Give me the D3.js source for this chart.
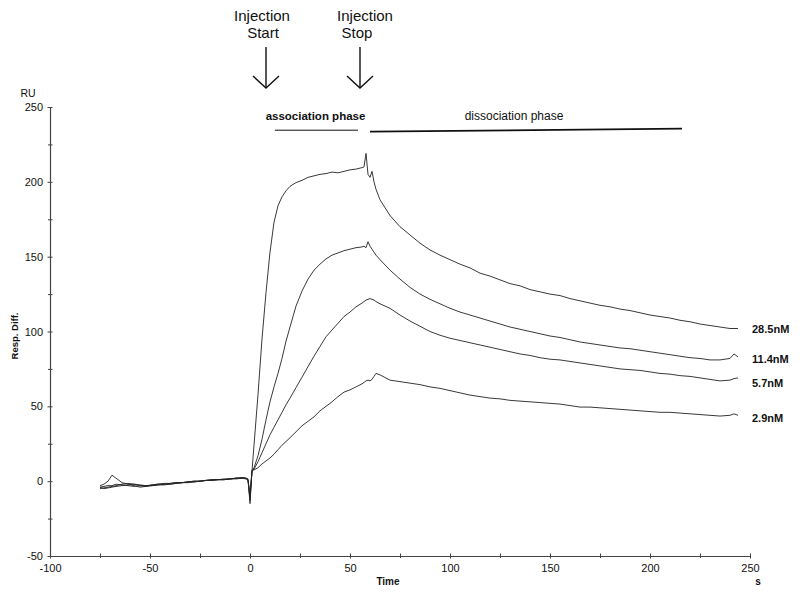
<!DOCTYPE html>
<html>
<head>
<meta charset="utf-8">
<script src="https://cdn.jsdelivr.net/npm/d3@7"></script>
<style>
  html, body { margin: 0; padding: 0; background: #fff; }
  svg { display: block; font-family: "Liberation Sans", Arial, Helvetica, sans-serif; }
</style>
</head>
<body>
<svg id="chart" width="800" height="596"></svg>
<script>
// ---------------- data ----------------
const time = [
  -75,-73,-71,-69,-67,-64,-61,-58,-55,-52,-49,-46,-43,-40,-37,-34,-31,-28,-25,-22,-19,-16,-13,-10,-7,-4,-2,-1,0,
  1,2,4,6,8,10,12,14,16,18,20,23,26,29,32,35,38,41,44,47,50,53,56,
  57,58,59,60,61,62,63,
  65,70,75,80,85,90,95,100,105,110,115,120,125,130,135,140,145,150,155,160,165,170,175,180,185,190,195,200,205,210,215,220,225,230,235,240,242,244
];

const resp285 = [
  -3,-2,0,4,2,-1,-2,-3,-4,-3.5,-3,-2.5,-2.5,-2,-1.5,-1,-1,-0.5,0,0.5,0.5,1,1,1.5,1.5,2,2,1.5,-15,
  7,24,58,95,126,153,173,184,190,194,197,199.5,201,203,204,205,205.5,206.5,206,207,208,208.5,209.5,
  210,219,205,203,207,200,195,
  188,177.5,170,164.5,159,154.5,151,148,145,142.5,139,137,134.5,132,130.5,128,126.5,125,124,122,120.5,119,117.5,116.5,115,114,112.5,111,110,109,107.5,106.5,105,104,103,102,102,102
];

const resp114 = [
  -4,-3.5,-3,-3,-2,-2.5,-3,-3.5,-3,-3,-2.5,-2,-2,-1.5,-1,-1,-0.5,0,0,0.5,1,1,1.5,1.5,2,2.5,2,1,-13,
  7,9,17,28,41,53,63,72,82,93.5,103,117,127,135,141,145,148.5,151,152.5,154,155,156,156.5,
  157,156,160,157,155,153,151,
  148,141,135,129.5,125,121.5,118.5,115.5,113,111,109,107,105,103,101.5,100,98.5,97,96,94.5,93,92,91,90,89,88.5,87.5,86.5,85.5,84.5,83.5,82.5,82,81,81,82,85,83
];

const resp57 = [
  -5,-4.5,-4,-3.5,-3,-2,-1.5,-2,-2.5,-3,-3,-2.5,-2,-2,-1.5,-1,-0.5,-0.5,0,0.5,0.5,1,1,1.5,2,2,2,1,-11,
  7,8,13,19,25,31,36,41,46,51,55.5,62.5,69.5,76.5,83.5,90,96.5,101,105.5,110,113,116.5,119,
  120,121,121.5,122,121.5,121,120,
  118.5,115.5,111,107,103.5,100,97.5,95.5,94,92.5,91,89.5,88,86.5,85,84,82.5,81.5,81,80,79,78,77,76,75,74.5,74,73,72,71.5,70.5,70,69,68,67,67.5,68.5,69
];

const resp29 = [
  -4,-5,-4.5,-4,-3.5,-3,-2.5,-2,-3,-3.5,-2.5,-2,-1.5,-1.5,-1,-1,-0.5,0,0,0.5,1,1,1,1.5,2,2,1.5,0.5,-9,
  7,7.5,9,11.5,13.5,15.5,18,21,24,26.5,29,33,37,40,43,47,50,53,56.5,59.5,61,63,65,
  66,67,67.5,67,68,70,72,
  71,67.5,66.5,65.5,64.5,63,62,60.5,59,57.5,56.5,55.5,55,54,53.5,53,52.5,52,51.5,50.5,49.5,49.5,49,48.5,48,47.5,47,46.5,46,46,45.5,45,44.5,44,43.5,44,45,44
];

const seriesNames = ["28.5nM", "11.4nM", "5.7nM", "2.9nM"];
const seriesValues = [resp285, resp114, resp57, resp29];
const labelLevels = [101.5, 81.5, 65.5, 42];

const xTicks = [-100, -50, 0, 50, 100, 150, 200, 250];
const xMinorTicks = [-75, -25, 25, 75, 125, 175, 225];
const yTicks = [-50, 0, 50, 100, 150, 200, 250];
const yMinorTicks = [-25, 25, 75, 125, 175, 225];

const injectionTimes = [8, 55];
const injectionLabels = [["Injection", "Start"], ["Injection", "Stop"]];
const phaseNames = ["association phase", "dissociation phase"];
const phaseRanges = [[12.5, 54], [60, 216]];
const phaseLevels = [[234.5, 234.5], [233.5, 235.5]];

// ---------------- layout ----------------
const svg = d3.select("#chart");
const x = d3.scaleLinear().domain([-100, 250]).range([50, 750]);
const y = d3.scaleLinear().domain([-50, 250]).range([556, 107]);
const ink = "#222";
const axisInk = "#444";
const fmt = d => String(d);

// axes
const xAxis = svg.append("g").attr("transform", `translate(0,${y(-50)})`)
  .call(d3.axisBottom(x).tickValues(xTicks).tickSize(2.5).tickSizeOuter(0).tickFormat(fmt));
const xMinor = svg.append("g").attr("transform", `translate(0,${y(-50)})`)
  .call(d3.axisBottom(x).tickValues(xMinorTicks).tickSize(2).tickSizeOuter(0).tickFormat(""));
const yAxis = svg.append("g").attr("transform", `translate(${x(-100)},0)`)
  .call(d3.axisLeft(y).tickValues(yTicks).tickSize(2.5).tickSizeOuter(0).tickFormat(fmt));
const yMinor = svg.append("g").attr("transform", `translate(${x(-100)},0)`)
  .call(d3.axisLeft(y).tickValues(yMinorTicks).tickSize(2).tickSizeOuter(0).tickFormat(""));

[xAxis, xMinor].forEach(g => {
  g.select(".domain").attr("stroke", axisInk).attr("stroke-width", 1.1);
  g.selectAll(".tick line").attr("stroke", axisInk).attr("y1", -2.5);
});
[yAxis, yMinor].forEach(g => {
  g.select(".domain").attr("stroke", axisInk).attr("stroke-width", 1.1);
  g.selectAll(".tick line").attr("stroke", axisInk).attr("x1", 2.5);
});
xAxis.selectAll(".tick text").attr("y", 8.5).attr("font-size", 11).attr("fill", "#111")
  .attr("font-family", "'Liberation Sans', Arial, sans-serif");
yAxis.selectAll(".tick text").attr("x", -7).attr("font-size", 11).attr("fill", "#111")
  .attr("font-family", "'Liberation Sans', Arial, sans-serif");

// axis titles
svg.append("text").attr("x", 28).attr("y", 97).attr("text-anchor", "middle")
  .attr("font-size", 10.5).attr("fill", "#111").text("RU");
svg.append("text").attr("transform", "translate(18,336) rotate(-90)").attr("text-anchor", "middle")
  .attr("font-size", 9.5).attr("font-weight", "bold").attr("fill", "#111").text("Resp. Diff.");
svg.append("text").attr("x", 388).attr("y", 585).attr("text-anchor", "middle")
  .attr("font-size", 10).attr("font-weight", "bold").attr("fill", "#111").text("Time");
svg.append("text").attr("x", 758).attr("y", 585).attr("text-anchor", "middle")
  .attr("font-size", 10).attr("font-weight", "bold").attr("fill", "#111").text("s");

// curves
const line = d3.line().x((d, i) => x(time[i])).y(d => y(d)).curve(d3.curveLinear);
svg.append("g").selectAll("path").data(seriesValues).join("path")
  .attr("d", d => line(d)).attr("fill", "none").attr("stroke", ink)
  .attr("stroke-width", 0.9).attr("stroke-linejoin", "round");

// series labels
svg.append("g").selectAll("text").data(seriesNames).join("text")
  .attr("x", x(time[time.length - 1]) + 14)
  .attr("y", (d, i) => y(labelLevels[i]))
  .attr("dy", "0.35em")
  .attr("font-size", 11).attr("font-weight", "bold").attr("fill", "#111")
  .text(d => d);

// injection arrows
injectionTimes.forEach((t, i) => {
  const cx = x(t);
  const g = svg.append("g");
  g.append("text").attr("x", cx - 4 + (i === 1 ? 9 : 0)).attr("y", 21).attr("text-anchor", "middle")
    .attr("font-size", 15).attr("fill", "#111").text(injectionLabels[i][0]);
  g.append("text").attr("x", cx - 3).attr("y", 38).attr("text-anchor", "middle")
    .attr("font-size", 15).attr("fill", "#111").text(injectionLabels[i][1]);
  g.append("line").attr("x1", cx).attr("x2", cx).attr("y1", 47).attr("y2", 88)
    .attr("stroke", "#111").attr("stroke-width", 1.4);
  g.append("path").attr("d", `M${cx - 13},${76} L${cx},${88} L${cx + 13},${76}`)
    .attr("fill", "none").attr("stroke", "#111").attr("stroke-width", 1.4);
});

// phase annotations
phaseNames.forEach((name, i) => {
  const [t0, t1] = phaseRanges[i];
  const [v0, v1] = phaseLevels[i];
  svg.append("line").attr("x1", x(t0)).attr("x2", x(t1)).attr("y1", y(v0)).attr("y2", y(v1))
    .attr("stroke", "#111").attr("stroke-width", i === 0 ? 1 : 1.8);
  const cx = i === 0 ? (x(t0) + x(t1)) / 2 - 1 : 514;
  svg.append("text").attr("x", cx).attr("y", 120).attr("text-anchor", "middle")
    .attr("font-size", i === 0 ? 11.5 : 12).attr("font-weight", i === 0 ? "bold" : "normal").attr("fill", "#111")
    .text(name);
});
</script>
</body>
</html>
